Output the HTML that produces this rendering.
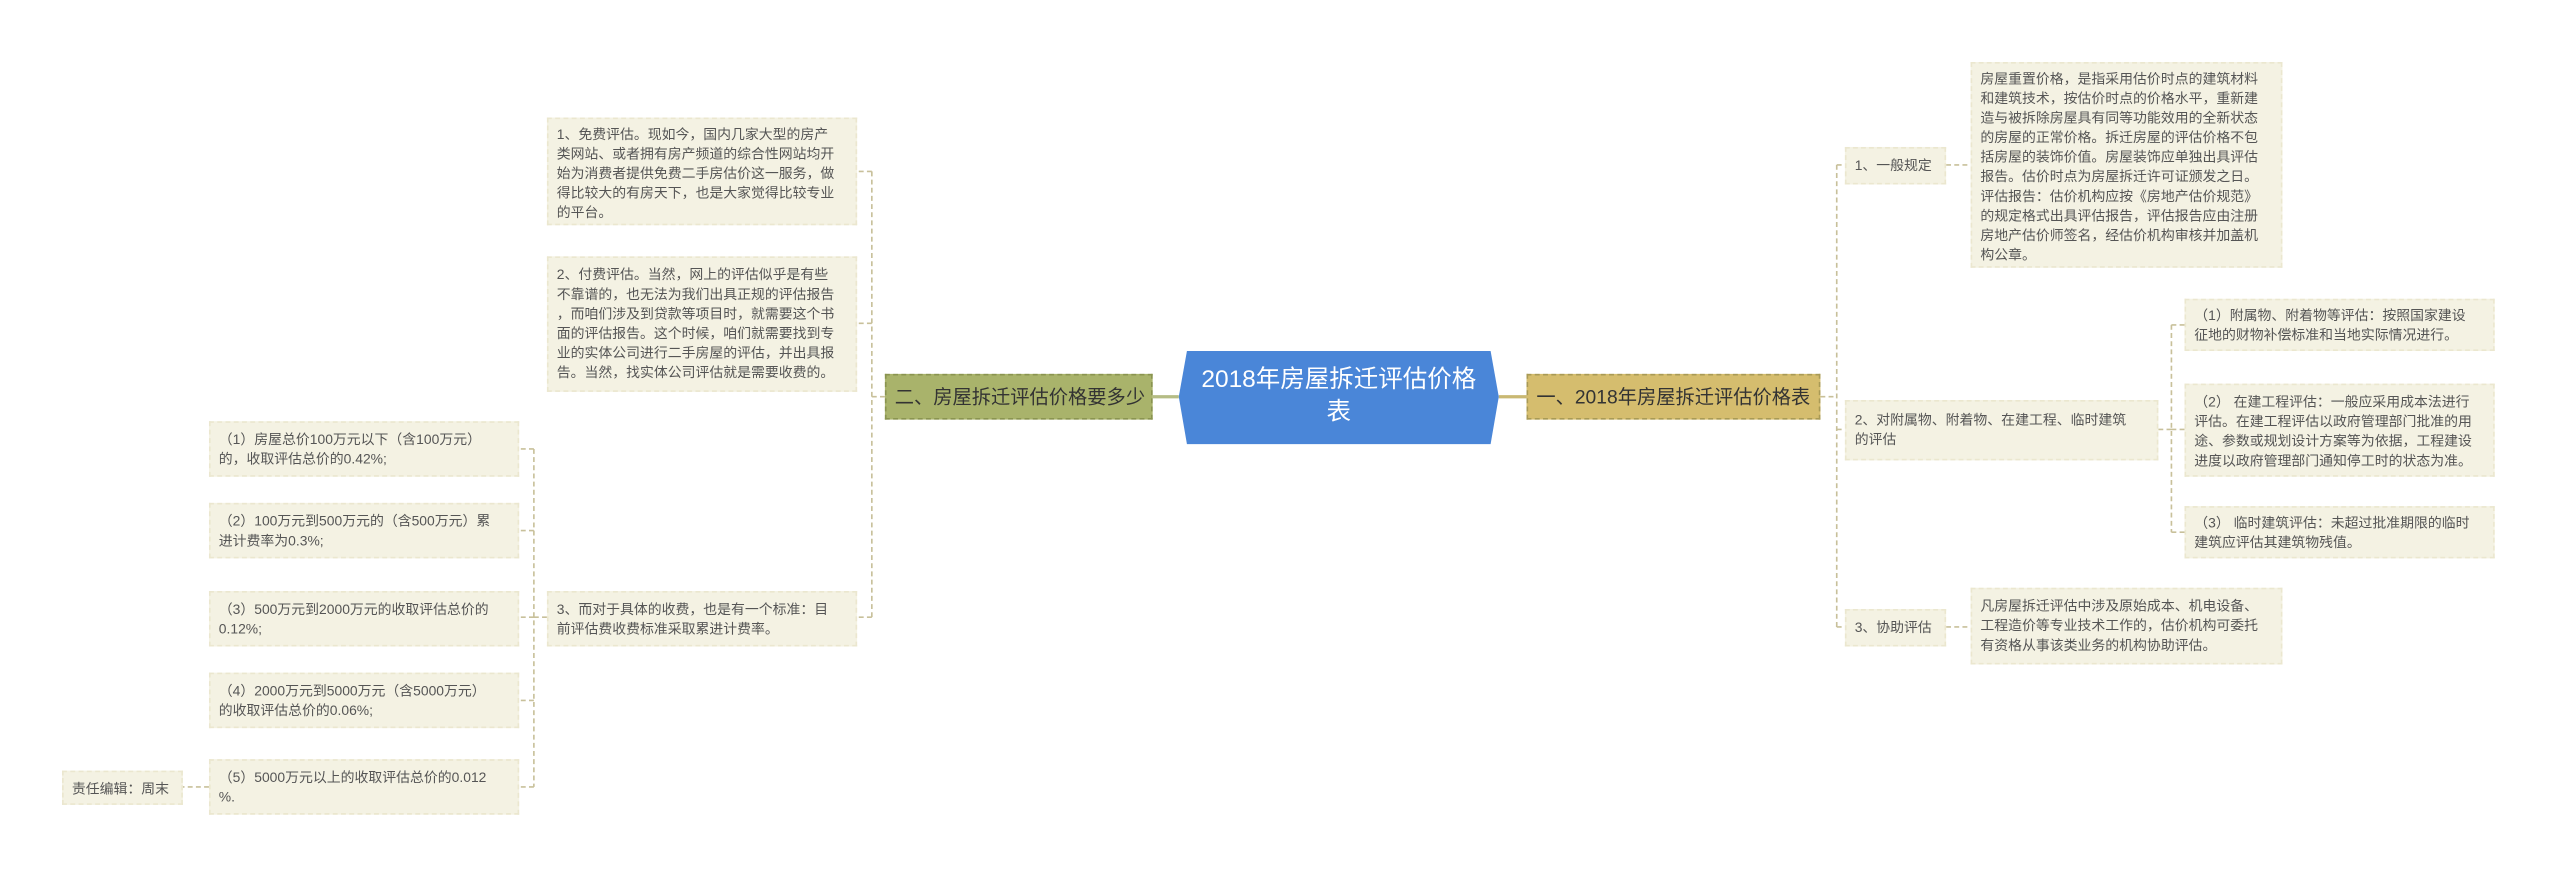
<!DOCTYPE html>
<html><head><meta charset="utf-8">
<style>
html,body{margin:0;padding:0;background:#fff;}
#wrap{position:relative;width:2560px;height:877px;overflow:hidden;background:#fff;}
#c{position:absolute;left:0;top:0;width:1568px;height:537px;transform:scale(1.63265);transform-origin:0 0;font-family:"Liberation Sans","Noto Sans CJK SC",sans-serif;}
.b{position:absolute;background:#f4f2e3;color:#555;font-size:8.5px;line-height:12px;padding:3px 5px;box-sizing:border-box;white-space:nowrap;border:1px dashed #ebe7cf;overflow:visible;}
.m{position:absolute;font-size:11.8px;line-height:26px;height:28px;box-sizing:border-box;border:1px dashed #a99a55;white-space:nowrap;padding:0 5px;color:#333;}
svg{position:absolute;left:0;top:0;}
</style></head><body><div id="wrap"><div id="c">
<svg width="1568" height="537">
<g stroke="#c8c09a" stroke-width="1" stroke-dasharray="3,2" fill="none">
<line x1="918" y1="243" x2="935" y2="243" stroke="#c9b873" stroke-dasharray="none" stroke-width="2"/>
<line x1="706" y1="243" x2="722" y2="243" stroke="#b5bc85" stroke-dasharray="none" stroke-width="2"/>
<path d="M1115 243 H1125 M1125 101 V384 M1125 101 H1130 M1125 263 H1130 M1125 384 H1130"/>
<path d="M1192 101 H1207 M1192 384 H1207"/>
<path d="M1322 263 H1330 M1330 199 V326 M1330 199 H1338 M1330 263 H1338 M1330 326 H1338"/>
<path d="M542 243 H534 M534 105 V378 M534 105 H525 M534 198 H525 M534 378 H525"/>
<path d="M335 378 H327 M327 275 V482 M327 275 H318 M327 325 H318 M327 378 H318 M327 429 H318 M327 482 H318"/>
<path d="M128 482 H112"/>
</g>
<polygon points="727,215 913,215 918,243 913,272 727,272 722,243" fill="#4a86d8"/>
</svg>
<div style="position:absolute;left:722px;top:215px;width:196px;height:57px;color:#fff;font-size:15px;line-height:20px;text-align:center;padding-top:8px;box-sizing:border-box;">2018年房屋拆迁评估价格<br>表</div>
<div class="m" style="left:935px;top:229px;width:180px;background:#d5bd6e;">一、2018年房屋拆迁评估价格表</div>
<div class="m" style="left:542px;top:229px;width:164px;background:#a9b36b;border-color:#8a9450;">二、房屋拆迁评估价格要多少</div>

<div class="b" style="left:1130px;top:90px;width:62px;height:23px;line-height:15px;">1、一般规定</div>
<div class="b" style="left:1207px;top:38px;width:191px;height:126px;">房屋重置价格，是指采用估价时点的建筑材料<br>和建筑技术，按估价时点的价格水平，重新建<br>造与被拆除房屋具有同等功能效用的全新状态<br>的房屋的正常价格。拆迁房屋的评估价格不包<br>括房屋的装饰价值。房屋装饰应单独出具评估<br>报告。估价时点为房屋拆迁许可证颁发之日。<br>评估报告：估价机构应按《房地产估价规范》<br>的规定格式出具评估报告，评估报告应由注册<br>房地产估价师签名，经估价机构审核并加盖机<br>构公章。</div>
<div class="b" style="left:1130px;top:245px;width:192px;height:37px;padding-top:5px;">2、对附属物、附着物、在建工程、临时建筑<br>的评估</div>
<div class="b" style="left:1338px;top:183px;width:190px;height:32px;">（1）附属物、附着物等评估：按照国家建设<br>征地的财物补偿标准和当地实际情况进行。</div>
<div class="b" style="left:1338px;top:235px;width:190px;height:57px;padding-top:4px;">（2） 在建工程评估：一般应采用成本法进行<br>评估。在建工程评估以政府管理部门批准的用<br>途、参数或规划设计方案等为依据，工程建设<br>进度以政府管理部门通知停工时的状态为准。</div>
<div class="b" style="left:1338px;top:310px;width:190px;height:32px;">（3） 临时建筑评估：未超过批准期限的临时<br>建筑应评估其建筑物残值。</div>
<div class="b" style="left:1130px;top:373px;width:62px;height:23px;line-height:15px;">3、协助评估</div>
<div class="b" style="left:1207px;top:360px;width:191px;height:47px;padding-top:4px;">凡房屋拆迁评估中涉及原始成本、机电设备、<br>工程造价等专业技术工作的，估价机构可委托<br>有资格从事该类业务的机构协助评估。</div>

<div class="b" style="left:335px;top:72px;width:190px;height:66px;">1、免费评估。现如今，国内几家大型的房产<br>类网站、或者拥有房产频道的综合性网站均开<br>始为消费者提供免费二手房估价这一服务，做<br>得比较大的有房天下，也是大家觉得比较专业<br>的平台。</div>
<div class="b" style="left:335px;top:157px;width:190px;height:83px;padding-top:4px;">2、付费评估。当然，网上的评估似乎是有些<br>不靠谱的，也无法为我们出具正规的评估报告<br>，而咱们涉及到贷款等项目时，就需要这个书<br>面的评估报告。这个时候，咱们就需要找到专<br>业的实体公司进行二手房屋的评估，并出具报<br>告。当然，找实体公司评估就是需要收费的。</div>
<div class="b" style="left:335px;top:362px;width:190px;height:34px;padding-top:4px;">3、而对于具体的收费，也是有一个标准：目<br>前评估费收费标准采取累进计费率。</div>

<div class="b" style="left:128px;top:258px;width:190px;height:34px;padding-top:4px;">（1）房屋总价100万元以下（含100万元）<br>的，收取评估总价的0.42%;</div>
<div class="b" style="left:128px;top:308px;width:190px;height:34px;padding-top:4px;">（2）100万元到500万元的（含500万元）累<br>进计费率为0.3%;</div>
<div class="b" style="left:128px;top:362px;width:190px;height:34px;padding-top:4px;">（3）500万元到2000万元的收取评估总价的<br>0.12%;</div>
<div class="b" style="left:128px;top:412px;width:190px;height:34px;padding-top:4px;">（4）2000万元到5000万元（含5000万元）<br>的收取评估总价的0.06%;</div>
<div class="b" style="left:128px;top:465px;width:190px;height:34px;padding-top:4px;">（5）5000万元以上的收取评估总价的0.012<br>%.</div>
<div class="b" style="left:38px;top:472px;width:74px;height:21px;line-height:14px;">责任编辑：周末</div>
</div></div></body></html>
